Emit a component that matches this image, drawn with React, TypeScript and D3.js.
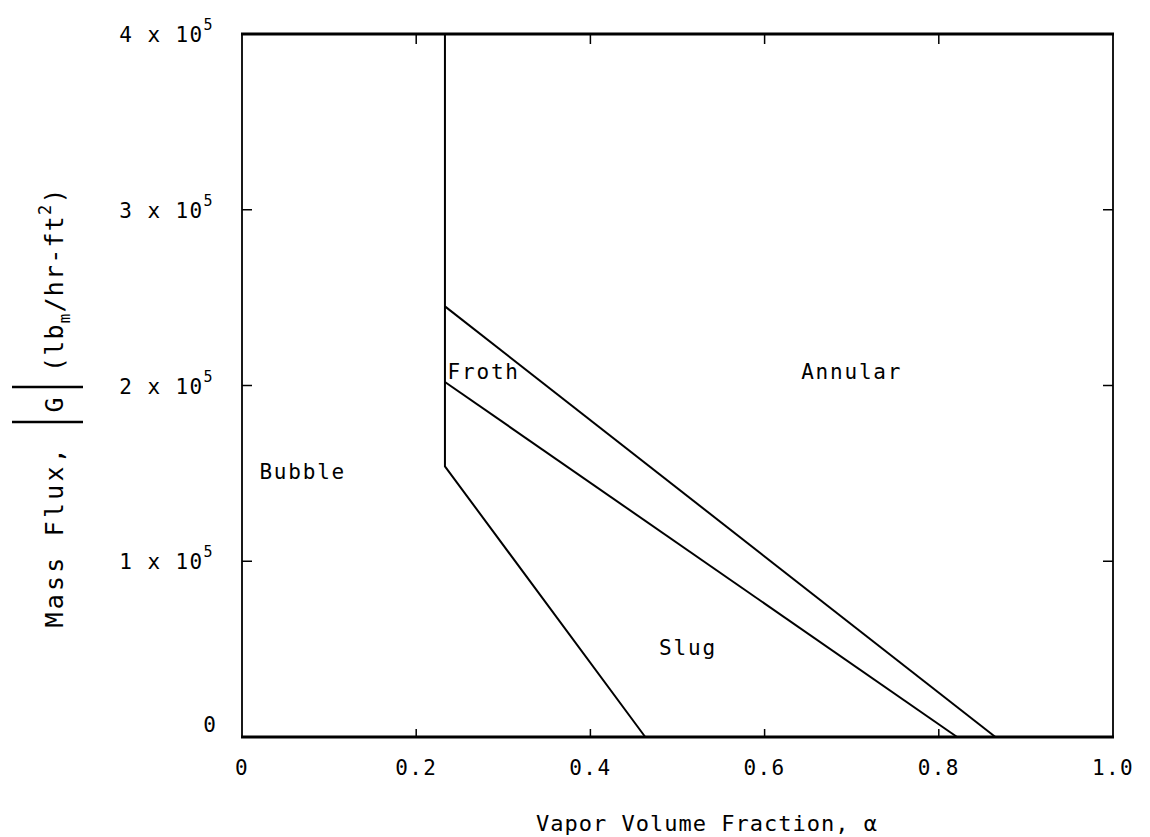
import React from 'react';
import * as d3 from 'd3';

// axis ticks
const xTicks = [0, 0.2, 0.4, 0.6, 0.8, 1.0];
const xTickLabels = ['0', '0.2', '0.4', '0.6', '0.8', '1.0'];
const yTicks = [0, 100000, 200000, 300000, 400000];
const yTickMantissa = ['0', '1', '2', '3', '4'];
const yTickExponent = '5';

// flow regime boundaries: [void fraction, mass flux]
const bubbleSlugBoundary = [[0.233, 400000], [0.233, 154000], [0.463, 0]];
const slugFrothBoundary = [[0.233, 202000], [0.821, 0]];
const frothAnnularBoundary = [[0.233, 245000], [0.865, 0]];

// regime names and where they sit
const regionNames = ['Bubble', 'Froth', 'Annular', 'Slug'];
const regionSpots = [[0.02, 150000], [0.236, 207000], [0.7, 207000], [0.512, 50000]];
const regionAnchors = ['start', 'start', 'middle', 'middle'];

const FONT = '"DejaVu Sans Mono", "Liberation Mono", monospace';

const App = () => {
    const width = 1150;
    const height = 837;
    const margin = {top: 34, right: 37, bottom: 100, left: 242};

    const x = d3.scaleLinear().domain([0, 1]).range([margin.left, width - margin.right]);
    const y = d3.scaleLinear().domain([0, 400000]).range([height - margin.bottom, margin.top]);

    const line = d3.line<number[]>()
        .x(d => x(d[0]))
        .y(d => y(d[1]));

    const x0 = x(0), x1 = x(1), yb = y(0), yt = y(400000);

    return (
        <svg width={width} height={height} style={{position: 'absolute', left: 0, top: 0, background: '#fff'}}>
            {/* frame */}
            <line x1={x0 - 1} x2={x1 + 1} y1={yt} y2={yt} stroke="#000" strokeWidth={3}/>
            <line x1={x0 - 1} x2={x1 + 1} y1={yb} y2={yb} stroke="#000" strokeWidth={3}/>
            <line x1={x0} x2={x0} y1={yt} y2={yb} stroke="#000" strokeWidth={1.8}/>
            <line x1={x1} x2={x1} y1={yt} y2={yb} stroke="#000" strokeWidth={1.8}/>

            {/* inward ticks */}
            {xTicks.slice(1, -1).map(t => (
                <g key={'xt' + t}>
                    <line x1={x(t)} x2={x(t)} y1={yb} y2={yb - 8} stroke="#000" strokeWidth={1.5}/>
                    <line x1={x(t)} x2={x(t)} y1={yt} y2={yt + 10} stroke="#000" strokeWidth={1.5}/>
                </g>
            ))}
            {yTicks.slice(1, -1).map(t => (
                <g key={'yt' + t}>
                    <line x1={x0} x2={x0 + 10} y1={y(t)} y2={y(t)} stroke="#000" strokeWidth={1.5}/>
                    <line x1={x1} x2={x1 - 10} y1={y(t)} y2={y(t)} stroke="#000" strokeWidth={1.5}/>
                </g>
            ))}

            {/* tick labels */}
            <g fontFamily={FONT} fontSize={21} fill="#000">
                {xTicks.map((t, i) => (
                    <text key={'xl' + t} x={x(t)} y={yb + 38} textAnchor="middle" letterSpacing={1.4}>
                        {xTickLabels[i]}
                    </text>
                ))}
                {yTicks.map((t, i) => (
                    i === 0 ? (
                        <text key={'yl' + t} x={216} y={y(t) - 5} textAnchor="end">{yTickMantissa[i]}</text>
                    ) : (
                        <text key={'yl' + t} x={214} y={y(t) + 8} textAnchor="end" letterSpacing={1.4}>
                            {yTickMantissa[i] + ' x 10'}
                            <tspan fontSize={15} dy={-12}>{yTickExponent}</tspan>
                        </text>
                    )
                ))}
            </g>

            {/* regime boundaries */}
            {[bubbleSlugBoundary, slugFrothBoundary, frothAnnularBoundary].map((b, i) => (
                <path key={'b' + i} d={line(b) || ''} fill="none" stroke="#000" strokeWidth={2}/>
            ))}

            {/* regime names */}
            <g fontFamily={FONT} fontSize={21} fill="#000">
                {regionNames.map((n, i) => (
                    <text key={n} x={x(regionSpots[i][0])} y={y(regionSpots[i][1])}
                          textAnchor={regionAnchors[i]} dominantBaseline="middle" letterSpacing={1.8}>
                        {n}
                    </text>
                ))}
            </g>

            {/* x axis title */}
            <text x={707} y={831} textAnchor="middle" fontFamily={FONT} fontSize={22} letterSpacing={1}>
                Vapor Volume Fraction, α
            </text>

            {/* y axis title */}
            <g fontFamily={FONT} fontSize={25} fill="#000">
                <text transform="translate(63,445) rotate(-90)" textAnchor="end" letterSpacing={3.2}>
                    Mass Flux,
                </text>
                <line x1={12} x2={83} y1={422} y2={422} stroke="#000" strokeWidth={2.5}/>
                <text transform="translate(63,405) rotate(-90)" textAnchor="middle">G</text>
                <line x1={12} x2={83} y1={387} y2={387} stroke="#000" strokeWidth={2.5}/>
                <text transform="translate(63,372) rotate(-90)" textAnchor="start" letterSpacing={1.2}>
                    (lb
                    <tspan fontSize={16} dy={7}>m</tspan>
                    <tspan dy={-7}>/hr-ft</tspan>
                    <tspan fontSize={17} dy={-12}>2</tspan>
                    <tspan dy={12}>)</tspan>
                </text>
            </g>
        </svg>
    );
};

export default App;
